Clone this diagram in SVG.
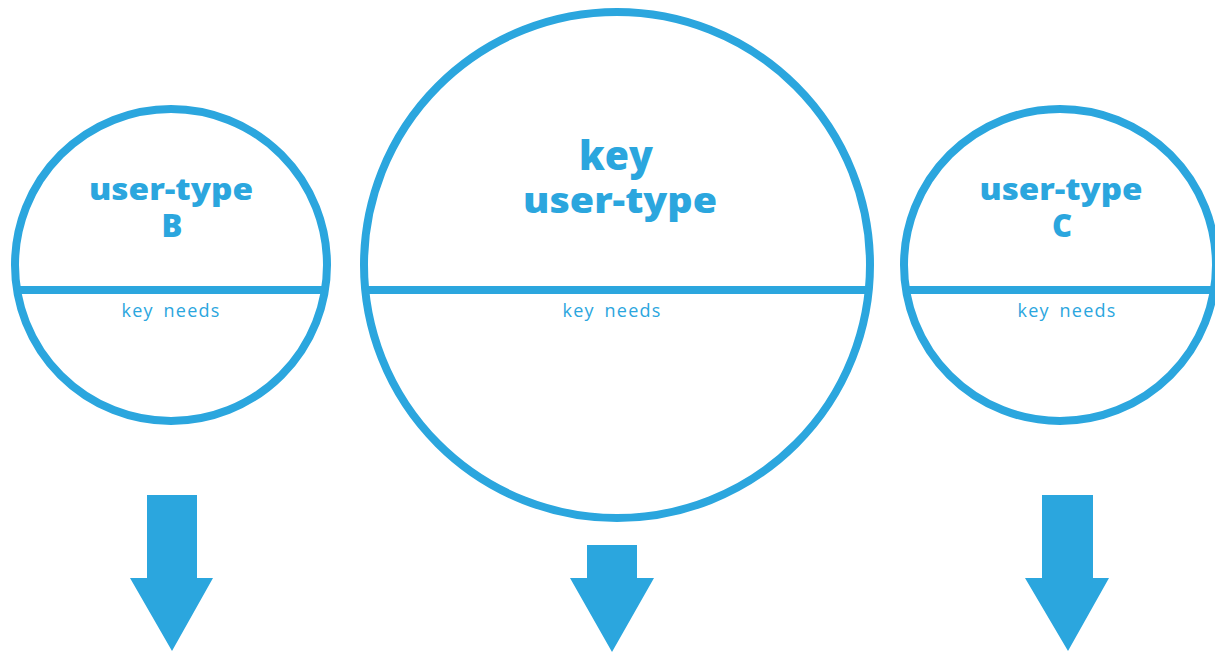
<svg xmlns="http://www.w3.org/2000/svg" width="1215" height="652" viewBox="0 0 1215 652">
<style>
.ring{fill:none;stroke:#2ba6de;stroke-width:8}
.bar{stroke:#2ba6de;stroke-width:8}
.title{font-family:"Open Sans","DejaVu Sans",sans-serif;font-weight:800;fill:#2ba6de;text-anchor:middle}
.need{font-family:"Open Sans","Noto Sans",sans-serif;font-size:18px;letter-spacing:1.2px;fill:#2ba6de;text-anchor:middle;word-spacing:4px}
.arrow{fill:#2ba6de}
</style>
<rect width="1215" height="652" fill="#ffffff"/>
<g id="node-b">
<circle class="ring" cx="171" cy="265" r="156"/>
<line class="bar" x1="17" y1="290" x2="325" y2="290"/>
<text class="title" x="171" y="200" font-size="30" textLength="164" lengthAdjust="spacingAndGlyphs">user-type</text>
<text class="title" x="172" y="237" font-size="31">B</text>
<text class="need" x="171" y="317">key needs</text>
</g>
<g id="node-key">
<circle class="ring" cx="617" cy="265" r="253"/>
<line class="bar" x1="366" y1="290" x2="868" y2="290"/>
<text class="title" x="616" y="170" font-size="40" textLength="74" lengthAdjust="spacingAndGlyphs">key</text>
<text class="title" x="620" y="213" font-size="35" textLength="194" lengthAdjust="spacingAndGlyphs">user-type</text>
<text class="need" x="612" y="317">key needs</text>
</g>
<g id="node-c">
<circle class="ring" cx="1060" cy="265" r="156"/>
<line class="bar" x1="908" y1="290" x2="1215" y2="290"/>
<text class="title" x="1061" y="200" font-size="30" textLength="163" lengthAdjust="spacingAndGlyphs">user-type</text>
<text class="title" x="1062" y="237" font-size="31">C</text>
<text class="need" x="1067" y="317">key needs</text>
</g>
<g id="connectors">
<polygon class="arrow" points="147,495 197,495 197,578 213,578 172,651 130,578 147,578"/>
<polygon class="arrow" points="587,545 637,545 637,578 654,578 612,652 570,578 587,578"/>
<polygon class="arrow" points="1042,495 1093,495 1093,578 1109,578 1068,651 1025,578 1042,578"/>
</g>
</svg>
